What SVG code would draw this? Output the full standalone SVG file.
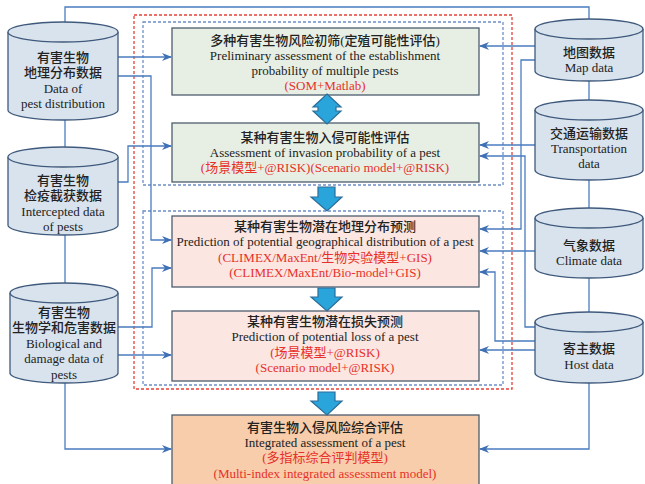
<svg xmlns="http://www.w3.org/2000/svg" width="645" height="484" viewBox="0 0 645 484">
<defs>
<marker id="ah" markerWidth="10" markerHeight="8" refX="9" refY="4" orient="auto" markerUnits="userSpaceOnUse">
<path d="M0,0 L10,4 L0,8 L3,4 Z" fill="#3f6fb5"/>
</marker>
<style>
.cyl{fill:#d8e3ee;stroke:#3f5a7c;stroke-width:1.3}
.box{stroke:#4d5d6d;stroke-width:1.3}
.g{fill:#e7efe4}
.p{fill:#fbe6e1}
.o{fill:#f7cdab}
.ln{fill:none;stroke:#4a7cc0;stroke-width:1.3}
.ar{fill:none;stroke:#4a7cc0;stroke-width:1.3;marker-end:url(#ah)}
.dotb{fill:none;stroke:#6d8fc8;stroke-width:1.3;stroke-dasharray:3 2}
.dotr{fill:none;stroke:#e8403a;stroke-width:1.3;stroke-dasharray:3 2}
.fat{fill:#2aa5dc;stroke:#2b6d99;stroke-width:1.2}
text{font-family:"Liberation Serif","Noto Sans CJK SC",serif;font-size:13px;fill:#222;text-anchor:middle}
.cn{font-size:13px;font-weight:500}
.r{fill:#e8302a}
</style>
</defs>
<rect width="645" height="484" fill="#ffffff"/>

<!-- dotted frames -->
<rect class="dotr" x="134" y="15" width="378" height="374"/>
<rect class="dotb" x="143" y="22" width="360" height="163"/>
<rect class="dotb" x="143" y="211" width="360" height="174"/>

<!-- connectors -->
<g id="connectors">
<path class="ln" d="M65,22 V7 H589 V19"/>
<path class="ln" d="M65,120 V147"/>
<path class="ln" d="M65,235 V283"/>
<path class="ar" d="M65,383 V449 H171"/>
<path class="ln" d="M589,81 V100"/>
<path class="ln" d="M589,180 V208"/>
<path class="ln" d="M589,278 V312"/>
<path class="ar" d="M589,383 V449 H480"/>
<path class="ar" d="M118,57 H171"/>
<path class="ar" d="M118,76 H151 V240 H171"/>
<path class="ar" d="M118,182 H128 V146 H171"/>
<path class="ar" d="M118,327 H152 V268 H171"/>
<path class="ar" d="M118,355 H171"/>
<path class="ar" d="M535,46 H480"/>
<path class="ar" d="M535,60 H521 V229 H480"/>
<path class="ar" d="M535,145 H480"/>
<path class="ar" d="M535,327 H525 V156 H480"/>
<path class="ar" d="M535,251 H480"/>
<path class="ar" d="M535,341 H495 V272 H480"/>
<path class="ar" d="M535,350 H480"/>
</g>

<!-- left cylinders -->
<g id="cyl-distribution">
<path class="cyl" d="M8,32 A55,10 0 0 1 118,32 V110 A55,10 0 0 1 8,110 Z"/>
<path class="cyl" d="M8,32 A55,10 0 0 0 118,32"/>
<text class="cn" x="63" y="62">有害生物</text>
<text class="cn" x="63" y="77">地理分布数据</text>
<text x="63" y="93">Data of</text>
<text x="63" y="108">pest distribution</text>
</g>
<g id="cyl-intercepted">
<path class="cyl" d="M8,157 A55,10 0 0 1 118,157 V225 A55,10 0 0 1 8,225 Z"/>
<path class="cyl" d="M8,157 A55,10 0 0 0 118,157"/>
<text class="cn" x="63" y="185">有害生物</text>
<text class="cn" x="63" y="200">检疫截获数据</text>
<text x="63" y="216">Intercepted data</text>
<text x="63" y="231">of pests</text>
</g>
<g id="cyl-biological">
<path class="cyl" d="M10,293 A54,10 0 0 1 118,293 V373 A54,10 0 0 1 10,373 Z"/>
<path class="cyl" d="M10,293 A54,10 0 0 0 118,293"/>
<text class="cn" x="64" y="317">有害生物</text>
<text class="cn" x="64" y="332">生物学和危害数据</text>
<text x="64" y="348">Biological and</text>
<text x="64" y="363">damage data of</text>
<text x="64" y="379">pests</text>
</g>

<!-- right cylinders -->
<g id="cyl-map">
<path class="cyl" d="M535,29 A54,10 0 0 1 643,29 V71 A54,10 0 0 1 535,71 Z"/>
<path class="cyl" d="M535,29 A54,10 0 0 0 643,29"/>
<text class="cn" x="589" y="57">地图数据</text>
<text x="589" y="72">Map data</text>
</g>
<g id="cyl-transport">
<path class="cyl" d="M535,110 A54,10 0 0 1 643,110 V170 A54,10 0 0 1 535,170 Z"/>
<path class="cyl" d="M535,110 A54,10 0 0 0 643,110"/>
<text class="cn" x="589" y="138">交通运输数据</text>
<text x="589" y="153">Transportation</text>
<text x="589" y="168">data</text>
</g>
<g id="cyl-climate">
<path class="cyl" d="M535,218 A54,10 0 0 1 643,218 V268 A54,10 0 0 1 535,268 Z"/>
<path class="cyl" d="M535,218 A54,10 0 0 0 643,218"/>
<text class="cn" x="589" y="250">气象数据</text>
<text x="589" y="265">Climate data</text>
</g>
<g id="cyl-host">
<path class="cyl" d="M535,322 A54,10 0 0 1 643,322 V373 A54,10 0 0 1 535,373 Z"/>
<path class="cyl" d="M535,322 A54,10 0 0 0 643,322"/>
<text class="cn" x="589" y="353">寄主数据</text>
<text x="589" y="369">Host data</text>
</g>

<!-- boxes -->
<g id="box-preliminary">
<rect class="box g" x="172" y="28" width="307" height="67"/>
<text class="cn" x="325" y="45">多种有害生物风险初筛(定殖可能性评估)</text>
<text x="325" y="60">Preliminary assessment of the establishment</text>
<text x="325" y="75">probability of multiple pests</text>
<text class="r" x="325" y="90">(SOM+Matlab)</text>
</g>
<g id="box-invasion">
<rect class="box g" x="172" y="123" width="307" height="59"/>
<text class="cn" x="325" y="142">某种有害生物入侵可能性评估</text>
<text x="325" y="157">Assessment of invasion probability of a pest</text>
<text class="r" x="325" y="172">(场景模型+@RISK)(Scenario model+@RISK)</text>
</g>
<g id="box-distribution">
<rect class="box p" x="172" y="216" width="307" height="71"/>
<text class="cn" x="325" y="231">某种有害生物潜在地理分布预测</text>
<text x="325" y="246">Prediction of potential geographical distribution of a pest</text>
<text class="r" x="325" y="262">(CLIMEX/MaxEnt/生物实验模型+GIS)</text>
<text class="r" x="325" y="277">(CLIMEX/MaxEnt/Bio-model+GIS)</text>
</g>
<g id="box-loss">
<rect class="box p" x="172" y="311" width="307" height="70"/>
<text class="cn" x="325" y="326">某种有害生物潜在损失预测</text>
<text x="325" y="341">Prediction of potential loss of a pest</text>
<text class="r" x="325" y="357">(场景模型+@RISK)</text>
<text class="r" x="325" y="372">(Scenario model+@RISK)</text>
</g>
<g id="box-integrated">
<rect class="box o" x="172" y="415" width="307" height="75"/>
<text class="cn" x="325" y="432">有害生物入侵风险综合评估</text>
<text x="325" y="447">Integrated assessment of a pest</text>
<text class="r" x="325" y="462">(多指标综合评判模型)</text>
<text class="r" x="325" y="478">(Multi-index integrated assessment model)</text>
</g>

<!-- fat arrows -->
<g id="fat-arrows">
<path class="fat" d="M327,94 L341,107 L336,107 L336,111 L341,111 L327,124 L313,111 L318,111 L318,107 L313,107 Z"/>
<path class="fat" d="M318,187 H335 V197 H342 L327,211 L311,197 H318 Z"/>
<path class="fat" d="M318,288 H335 V297 H342 L327,311 L311,297 H318 Z"/>
<path class="fat" d="M318,392 H335 V401 H342 L327,415 L311,401 H318 Z"/>
</g>
</svg>
